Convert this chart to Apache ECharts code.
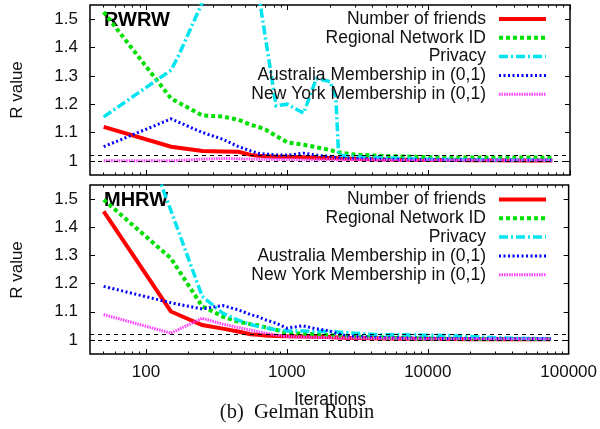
<!DOCTYPE html>
<html>
<head>
<meta charset="utf-8">
<script src="https://cdn.jsdelivr.net/npm/echarts@6/dist/echarts.min.js"></script>
<style>
  html, body { margin: 0; padding: 0; background: #fff; }
  #chart { width: 600px; height: 429px; }
</style>
</head>
<body>
<div id="chart"></div>
<script>
// Gelman-Rubin R value against the number of iterations, for two random walks.
const iterations = [50, 150, 170, 250, 350, 450, 550, 620, 700, 830, 1000, 1300, 1600, 2000, 2200,
  2300, 2600, 3000, 4000, 5000, 7000, 10000, 15000, 20000, 30000, 50000, 75000];

const seriesNames = ['Number of friends', 'Regional Network ID', 'Privacy',
  'Australia Membership in (0,1)', 'New York Membership in (0,1)'];
const panelNames = ['RWRW', 'MHRW'];

// RWRW panel
const rwrwFriends = [1.12, 1.05, null, 1.035, 1.033, 1.032, 1.021, 1.018, 1.016, 1.014, 1.014, 1.013, 1.011, 1.01, null,
  1.009, 1.008, 1.007, 1.006, 1.005, 1.004, 1.003, 1.003, 1.002, 1.002, 1.001, 1.001];
const rwrwRegion = [1.525, 1.22, null, 1.16, 1.156, 1.145, 1.127, 1.12, 1.11, 1.088, 1.065, 1.057, 1.048, 1.038, null,
  1.03, 1.026, 1.022, 1.019, 1.017, 1.015, 1.013, 1.013, 1.012, 1.012, 1.012, 1.012];
const rwrwPrivacy = [1.155, 1.32, 1.373, 1.56, 1.9, 2.1, 1.95, 1.6, null, 1.194, 1.2, 1.168, 1.29, 1.28, 1.226,
  1.02, 1.018, 1.016, 1.012, 1.01, 1.008, 1.006, 1.005, 1.004, 1.003, 1.003, 1.002];
const rwrwAustralia = [1.05, 1.148, null, 1.1, 1.076, 1.05, 1.035, 1.027, 1.024, 1.021, 1.02, 1.027, 1.02, 1.015, null,
  1.01, 1.009, 1.008, 1.006, 1.005, 1.004, 1.004, 1.003, 1.003, 1.002, 1.002, 1.002];
const rwrwNewYork = [1.0, 1.0, null, 1.006, 1.008, 1.007, 1.006, 1.006, 1.006, 1.005, 1.005, 1.004, 1.004, 1.004, null,
  1.003, 1.003, 1.003, 1.003, 1.002, 1.002, 1.002, 1.002, 1.002, 1.002, 1.002, 1.002];

// MHRW panel
const mhrwFriends = [1.456, 1.101, null, 1.053, 1.04, 1.03, 1.02, 1.018, 1.016, 1.014, 1.013, 1.012, 1.011, 1.01, null,
  1.009, 1.008, 1.007, 1.006, 1.005, 1.004, 1.003, 1.003, 1.002, 1.002, 1.002, 1.002];
const mhrwRegion = [1.498, 1.29, null, 1.12, 1.083, 1.065, 1.056, 1.052, 1.045, 1.036, 1.026, 1.022, 1.02, 1.017, null,
  1.015, 1.013, 1.012, 1.01, 1.008, 1.006, 1.005, 1.004, 1.004, 1.003, 1.003, 1.003];
const mhrwPrivacy = [2.1, 1.46, null, 1.155, 1.095, 1.07, 1.055, 1.048, 1.043, 1.036, 1.032, 1.032, 1.03, 1.03, null,
  1.028, 1.026, 1.024, 1.02, 1.018, 1.018, 1.017, 1.015, 1.012, 1.008, 1.005, 1.004];
const mhrwAustralia = [1.19, 1.132, null, 1.11, 1.122, 1.107, 1.09, 1.083, 1.072, 1.06, 1.042, 1.05, 1.04, 1.032, null,
  1.022, 1.016, 1.012, 1.01, 1.008, 1.007, 1.006, 1.005, 1.005, 1.004, 1.004, 1.004];
const mhrwNewYork = [1.09, 1.024, null, 1.077, 1.056, 1.044, 1.035, 1.03, 1.024, 1.018, 1.012, 1.01, 1.009, 1.008, null,
  1.007, 1.007, 1.006, 1.005, 1.005, 1.004, 1.003, 1.003, 1.003, 1.003, 1.003, 1.003];

const xMajorTicks = [100, 1000, 10000, 100000];
const xMinorTicks = [50, 60, 70, 80, 90, 200, 300, 400, 500, 600, 700, 800, 900,
  2000, 3000, 4000, 5000, 6000, 7000, 8000, 9000, 20000, 30000, 40000, 50000, 60000, 70000, 80000, 90000];
const yTicks = [1, 1.1, 1.2, 1.3, 1.4, 1.5];
const thresholds = [1, 1.02];

const FONT = '"Liberation Sans", Arial, Helvetica, sans-serif';
const TEXT = '#111';

const lineStyles = [
  { color: '#ff0000', width: 4, type: 'solid' },
  { color: '#00e000', width: 4, type: [4, 3] },
  { color: '#00e4f0', width: 3.5, type: [9, 3, 2, 3] },
  { color: '#0000ff', width: 3, type: [2, 2.5] },
  { color: '#ff40ff', width: 3, type: [1.5, 1] }
];

const panels = [
  [rwrwFriends, rwrwRegion, rwrwPrivacy, rwrwAustralia, rwrwNewYork],
  [mhrwFriends, mhrwRegion, mhrwPrivacy, mhrwAustralia, mhrwNewYork]
];

const grids = [
  { left: 90, top: 5, width: 480, height: 170 },
  { left: 90, top: 185, width: 480, height: 169 }
].map(g => Object.assign(g, { show: true, borderColor: '#000', borderWidth: 1.5, backgroundColor: 'transparent' }));

function xAxisPair(gi, position, withLabels) {
  const base = {
    gridIndex: gi, type: 'log', logBase: 10, min: 40, max: 100000, position,
    axisLine: { show: false }, splitLine: { show: false }
  };
  return [
    Object.assign({}, base, {
      axisTick: { show: true, inside: true, length: 5, customValues: xMajorTicks, lineStyle: { color: '#000', width: 1 } },
      axisLabel: {
        show: withLabels, customValues: xMajorTicks, margin: 10, fontSize: 17, color: TEXT, fontFamily: FONT,
        formatter: v => String(Math.round(v))
      }
    }),
    Object.assign({}, base, {
      axisTick: { show: true, inside: true, length: 2.5, customValues: xMinorTicks, lineStyle: { color: '#000', width: 1 } },
      axisLabel: { show: false }
    })
  ];
}

const xAxes = [];
const yAxes = [];
[0, 1].forEach(gi => {
  xAxes.push(...xAxisPair(gi, 'bottom', gi === 1), ...xAxisPair(gi, 'top', false));
  const yBase = {
    gridIndex: gi, type: 'value', min: 0.95, max: 1.55,
    axisLine: { show: false }, splitLine: { show: false },
    axisTick: { show: true, inside: true, length: 5, customValues: yTicks, lineStyle: { color: '#000', width: 1 } }
  };
  yAxes.push(Object.assign({}, yBase, {
    position: 'left',
    axisLabel: {
      customValues: yTicks, margin: 12, fontSize: 17, color: TEXT, fontFamily: FONT,
      formatter: v => String(Math.round(v * 10) / 10)
    }
  }));
  yAxes.push(Object.assign({}, yBase, { position: 'right', axisLabel: { show: false } }));
});

const series = [];
panels.forEach((values, gi) => {
  values.forEach((vals, si) => {
    const data = [];
    vals.forEach((v, k) => { if (v !== null) data.push([iterations[k], v]); });
    const st = lineStyles[si];
    const s = {
      name: seriesNames[si], type: 'line', xAxisIndex: gi * 4, yAxisIndex: gi * 2,
      data, symbol: 'none', showSymbol: false, clip: true, smooth: false,
      lineStyle: { color: st.color, width: st.width, type: st.type, cap: 'butt', join: 'miter' },
      itemStyle: { color: st.color },
      emphasis: { disabled: true }
    };
    if (si === 0) {
      s.markLine = {
        silent: true, symbol: 'none', label: { show: false }, emphasis: { disabled: true },
        lineStyle: { color: '#000', type: [4, 4], width: 1 },
        data: thresholds.map(t => ({ yAxis: t }))
      };
    }
    series.push(s);
  });
});

const legendBase = {
  orient: 'vertical', align: 'right', right: 52, padding: 0,
  itemWidth: 47, itemHeight: 14, itemGap: 0.8, selectedMode: false,
  itemStyle: { opacity: 0 },
  lineStyle: { width: 'inherit' },
  textStyle: { fontSize: 17.5, lineHeight: 17.5, color: TEXT, fontFamily: FONT, padding: [0, 8, 0, 0] },
  data: seriesNames
};

const chart = echarts.init(document.getElementById('chart'), null, { renderer: 'canvas' });
chart.setOption({
  animation: false,
  backgroundColor: '#fff',
  grid: grids,
  xAxis: xAxes,
  yAxis: yAxes,
  legend: [
    Object.assign({}, legendBase, { top: 10 }),
    Object.assign({}, legendBase, { top: 190.5 })
  ],
  series,
  graphic: [
    { type: 'text', left: 104, top: 10, style: { text: panelNames[0], fontSize: 20, fontWeight: 'bold', fill: '#000', fontFamily: FONT } },
    { type: 'text', left: 104, top: 190, style: { text: panelNames[1], fontSize: 20, fontWeight: 'bold', fill: '#000', fontFamily: FONT } },
    { type: 'text', x: 17, y: 90, rotation: Math.PI / 2, style: { text: 'R value', fontSize: 17, fill: TEXT, fontFamily: FONT, align: 'center', verticalAlign: 'middle' } },
    { type: 'text', x: 17, y: 270, rotation: Math.PI / 2, style: { text: 'R value', fontSize: 17, fill: TEXT, fontFamily: FONT, align: 'center', verticalAlign: 'middle' } },
    { type: 'text', x: 330, y: 400, style: { text: 'Iterations', fontSize: 17.5, fill: TEXT, fontFamily: FONT, align: 'center', verticalAlign: 'middle' } },
    { type: 'text', x: 297, y: 413, style: { text: '(b)  Gelman Rubin', fontSize: 20.5, fill: TEXT, fontFamily: '"Liberation Serif", "Times New Roman", serif', align: 'center', verticalAlign: 'middle' } }
  ]
});
</script>
</body>
</html>
